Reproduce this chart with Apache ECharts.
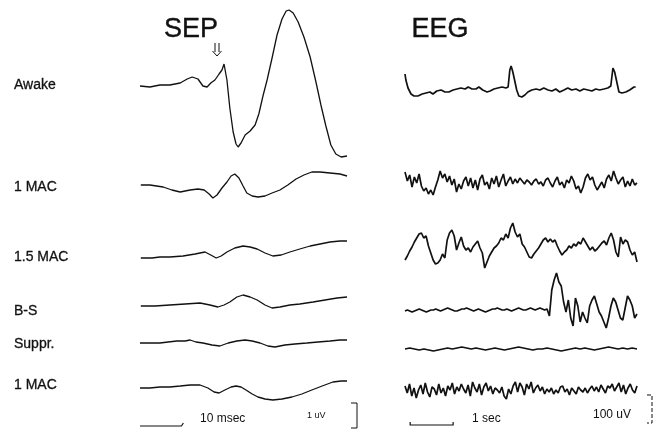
<!DOCTYPE html>
<html><head><meta charset="utf-8">
<script src="https://cdn.jsdelivr.net/npm/echarts@6/dist/echarts.min.js"></script>
<style>html,body{margin:0;padding:0;background:#fff}#c{width:663px;height:432px}</style>
</head><body><div id="c"></div>
<script>
// ---------- DATA ----------
const conditions = ['Awake', '1 MAC', '1.5 MAC', 'B-S', 'Suppr.', '1 MAC'];
const panelTitles = ['SEP', 'EEG'];
const scaleLabels = {sepTime: '10 msec', sepAmp: '1 uV', eegTime: '1 sec', eegAmp: '100 uV'};

// SEP traces: [time (ms), amplitude (a.u., up positive)]
const sepAwake = [[0,0],[2.4,-1],[4.8,1],[7.2,1],[9.7,3],[11.4,7],[12.6,9],[14.0,7],[15.2,0],[16.2,-1],[17.1,3],[18.1,6],[19.1,12],[19.8,16],[20.3,22],[21.0,6],[21.7,-22],[22.5,-46],[23.2,-58],[23.7,-61],[24.4,-57],[25.4,-49],[26.6,-45],[27.8,-39],[28.7,-28],[29.7,-10],[30.7,6],[31.9,28],[33.1,51],[34.3,67],[35.3,75],[36.0,76],[37.0,73],[38.2,64],[39.6,49],[41.1,29],[42.5,4],[43.7,-19],[44.9,-40],[46.1,-59],[47.3,-68],[48.6,-71],[50.0,-70]];
const sep1Mac = [[0.2,1],[2.4,1],[5.6,-1],[7.7,-4],[9.7,-6],[12.1,-4],[14.0,-3],[15.5,-4],[16.7,-8],[17.6,-12],[18.6,-9],[19.8,-2],[21.0,4],[22.0,10],[22.9,12],[23.9,8],[24.9,0],[25.8,-7],[27.1,-10],[28.5,-11],[30.2,-10],[31.9,-7],[33.8,-4],[35.7,1],[37.7,7],[39.6,11],[41.5,14],[43.5,14],[45.9,13],[48.3,12],[50,10]];
const sep15Mac = [[0.2,0],[2.9,0],[4.8,1],[7.2,1],[10.4,2],[13.3,4],[15.7,6],[17.1,3],[18.4,0],[19.6,2],[21.0,6],[22.9,10],[24.9,12],[26.6,11],[28.3,9],[30.2,5],[32.1,2],[34.1,3],[36.2,6],[38.6,9],[41.1,12],[43.5,14],[45.9,16],[48.3,17],[50,17]];
const sepBS = [[0.2,0],[3.6,0],[7.2,1],[10.9,2],[14.5,3],[16.9,1],[18.8,-1],[20.3,1],[21.7,4],[23.4,9],[24.9,11],[26.6,9],[28.3,6],[30.2,1],[31.9,-2],[33.8,-1],[36.2,1],[38.6,2],[41.8,4],[44.7,6],[47.6,8],[50,9]];
const sepSuppr = [[0,0],[2.4,0],[4.8,0],[6.8,1],[8.9,2],[10.9,2],[12.1,3],[13.5,1],[15.2,0],[17.4,-2],[19.3,-3],[21.3,0],[23.4,2],[25.4,3],[27.1,2],[29.0,0],[30.9,-3],[32.6,-4],[35.0,-2],[37.4,-1],[40.3,0],[43.0,1],[45.9,2],[48.3,3],[50,3]];
const sep1MacB = [[0,0],[2.4,0],[4.8,1],[7.2,1],[9.7,2],[12.1,3],[14.5,3],[16.4,0],[17.9,-4],[19.1,-5],[20.5,-2],[22.0,1],[23.2,2],[24.4,1],[25.6,-2],[27.1,-6],[28.5,-9],[30.2,-11],[32.1,-12],[34.3,-11],[36.7,-9],[39.1,-6],[41.5,-2],[44.0,2],[46.6,6],[48.6,7],[50,7]];

// EEG traces
// Awake: [time (s), amplitude (a.u.)]
const eegAwake = [[0,16],[0.02,10],[0.07,2],[0.14,-4],[0.21,-6],[0.30,-6],[0.40,-4],[0.49,-3],[0.58,-2],[0.65,-4],[0.74,-1],[0.84,0],[0.93,-2],[1.02,-2],[1.12,0],[1.21,1],[1.30,2],[1.40,1],[1.47,3],[1.56,1],[1.65,1],[1.72,3],[1.81,0],[1.91,-2],[1.98,-1],[2.07,1],[2.16,2],[2.26,3],[2.35,2],[2.40,3],[2.44,20],[2.47,24],[2.51,18],[2.56,8],[2.60,0],[2.65,-6],[2.72,-7],[2.79,-5],[2.86,-2],[2.95,0],[3.05,1],[3.14,0],[3.23,2],[3.33,0],[3.42,-1],[3.51,1],[3.60,-2],[3.70,0],[3.79,2],[3.88,0],[3.98,1],[4.07,-1],[4.16,1],[4.26,0],[4.35,-1],[4.44,1],[4.53,0],[4.63,1],[4.72,2],[4.79,4],[4.84,22],[4.88,18],[4.93,8],[4.98,-2],[5.05,-3],[5.14,-2],[5.23,0],[5.33,3],[5.37,3]];
// Others: evenly sampled over the sweep (amplitude, a.u.)
const eeg1Mac = [11,2,8,-4,6,0,9,-3,-8,-5,-11,-7,-12,-4,3,12,5,9,1,7,-2,4,-9,-1,-6,2,6,-3,5,-5,3,-7,4,8,-2,1,-6,5,-1,7,-4,3,9,-3,2,6,-1,4,0,5,2,-1,3,1,-2,2,4,-1,1,-3,3,5,0,-4,2,6,-2,1,-5,3,0,7,2,-6,-3,-10,-4,5,9,3,6,-2,-7,-3,1,-5,4,8,2,12,5,-1,3,6,-4,2,-3,4,-2,0];
const eeg15Mac = [-12,-8,-3,1,6,10,14,15,10,12,2,-5,-12,-16,-15,-12,-6,-10,8,15,18,12,-2,5,11,2,-2,0,-4,1,4,7,0,-5,-20,-14,-8,-4,0,2,5,10,8,14,10,20,25,16,11,14,4,1,-4,-9,-10,-6,-3,0,4,8,10,6,9,6,8,2,-3,-7,-4,-2,2,0,4,2,6,4,10,6,2,-2,1,-3,-1,2,5,7,3,10,15,8,-4,-9,11,4,8,6,-2,-7,-4,-14];
const eegBS = [-1,0,-1,-2,-1,0,1,0,-1,-2,-1,0,0,1,0,-1,0,1,2,1,0,-1,-1,0,1,1,2,1,0,-1,0,1,0,-1,-2,-1,0,1,1,2,1,0,0,1,0,-1,0,1,2,1,0,0,1,2,1,0,1,2,1,0,1,-6,20,30,37,28,24,8,-2,10,-8,-16,12,4,-12,-2,-8,-13,4,10,14,6,-2,-6,-12,-18,-8,4,12,8,0,-8,-10,2,14,10,4,-8,-4];
const eegSuppr = [0,1,0,-1,0,-1,-2,-1,0,1,0,1,2,1,0,1,0,-1,0,1,0,-1,0,1,2,1,0,-1,0,0,1,0,-1,-2,-1,0,1,0,1,0,-1,0,1,2,1,0,1,0,1,0];
const eeg1MacB = [4,-3,6,-6,2,-8,0,5,-4,7,-2,-7,3,1,-5,6,-3,2,-6,4,0,7,-4,3,-1,6,1,-3,5,-6,8,2,-2,6,-5,3,7,-1,4,-4,2,0,-3,3,-6,-9,1,-4,4,8,-2,7,3,-5,6,1,8,-3,2,5,-1,3,-4,1,-2,2,-4,0,-3,3,4,-2,1,-5,2,-1,-4,3,0,-2,2,-3,1,4,-1,3,-2,5,1,-3,4,2,6,-1,3,7,-2,5,-4,2,6,0,-3,4];

// ---------- LAYOUT (positions / styles) ----------
const H = 432;
const sepRange = [0, 50];     // ms
const eegRange = [0, 5.4];    // s
const sepBaseline = [86, 186, 258, 306, 343, 388];
const eegBaseline = [90, 183, 248, 310, 349, 390];
const labelY = [85, 187, 257, 311, 344, 385];
const INK = '#111';

const sepTraces = [sepAwake, sep1Mac, sep15Mac, sepBS, sepSuppr, sep1MacB];
const eegSampled = [null, eeg1Mac, eeg15Mac, eegBS, eegSuppr, eeg1MacB];

const series = [];
sepTraces.forEach((tr, k) => {
  series.push({
    type: 'line', xAxisIndex: 0, yAxisIndex: 0, showSymbol: false, silent: true,
    lineStyle: {color: INK, width: 1.3}, z: 3,
    data: tr.map(([t, a]) => [t, H - sepBaseline[k] + a])
  });
});
eegSampled.forEach((arr, k) => {
  let data;
  if (k === 0) data = eegAwake.map(([t, a]) => [t, H - eegBaseline[k] + a]);
  else data = arr.map((a, i) => [i * eegRange[1] / (arr.length - 1), H - eegBaseline[k] + a]);
  series.push({
    type: 'line', xAxisIndex: 1, yAxisIndex: 1, showSymbol: false, silent: true,
    lineStyle: {color: INK, width: 1.7}, z: 3, data
  });
});

const chart = echarts.init(document.getElementById('c'), null, {renderer: 'canvas'});
chart.setOption({
  animation: false,
  backgroundColor: '#fff',
  grid: [
    {left: 140, width: 207, top: 0, height: H},
    {left: 405, width: 232, top: 0, height: H}
  ],
  xAxis: [
    {type: 'value', gridIndex: 0, min: sepRange[0], max: sepRange[1], show: false},
    {type: 'value', gridIndex: 1, min: eegRange[0], max: eegRange[1], show: false}
  ],
  yAxis: [
    {type: 'value', gridIndex: 0, min: 0, max: H, show: false},
    {type: 'value', gridIndex: 1, min: 0, max: H, show: false}
  ],
  series
});

// ---------- annotations from axis scales ----------
const px0 = (x, y) => chart.convertToPixel({xAxisIndex: 0, yAxisIndex: 0}, [x, y]);
const px1 = (x, y) => chart.convertToPixel({xAxisIndex: 1, yAxisIndex: 1}, [x, y]);
const lineStyle = {stroke: INK, lineWidth: 1.2};
const font = (s, w) => `${w || 'normal'} ${s}px "Liberation Sans", Arial, sans-serif`;
const g = [];

// row labels
conditions.forEach((c, k) => g.push({type: 'text', x: 14, y: labelY[k],
  style: {text: c, font: font(14), fill: INK, verticalAlign: 'middle', stroke: INK, lineWidth: 0.3}}));
// titles
g.push({type: 'text', x: 191, y: 30, style: {text: panelTitles[0], font: font(27), fill: INK, align: 'center', verticalAlign: 'middle', stroke: INK, lineWidth: 0.4}});
g.push({type: 'text', x: 440, y: 30, style: {text: panelTitles[1], font: font(27), fill: INK, align: 'center', verticalAlign: 'middle', stroke: INK, lineWidth: 0.4}});

// arrow over the early SEP component
const ap = px0(18.6, H - sepBaseline[0] + 22);
const ax = ap[0], ay = ap[1] - 8;
g.push({type: 'polyline', shape: {points: [[ax - 2, ay - 13], [ax - 2, ay - 4]]}, style: {stroke: INK, lineWidth: 1}});
g.push({type: 'polyline', shape: {points: [[ax + 2, ay - 13], [ax + 2, ay - 4]]}, style: {stroke: INK, lineWidth: 1}});
g.push({type: 'polyline', shape: {points: [[ax - 4.5, ay - 5], [ax, ay], [ax + 4.5, ay - 5]]}, style: {stroke: INK, lineWidth: 1, fill: null}});

// SEP time bar (10 ms)
const s0 = px0(0, 0)[0], s1 = px0(10, 0)[0];
g.push({type: 'polyline', shape: {points: [[s0, 426], [s1, 426], [s1 + 2, 423]]}, style: lineStyle});
g.push({type: 'text', left: 200, top: 413, style: {text: scaleLabels.sepTime, font: font(12), fill: INK}});
g.push({type: 'text', left: 307, top: 411, style: {text: scaleLabels.sepAmp, font: font(9), fill: INK}});
// SEP amplitude bracket
g.push({type: 'polyline', shape: {points: [[351, 403], [357, 403], [357, 428], [351, 428]]}, style: {stroke: INK, lineWidth: 1, fill: null}});

// EEG time bar (1 s)
const e0 = px1(0.12, 0)[0], e1 = px1(1.12, 0)[0];
g.push({type: 'polyline', shape: {points: [[e0, 422], [e0, 425], [e1, 425], [e1, 422]]}, style: lineStyle});
g.push({type: 'text', left: 472, top: 413, style: {text: scaleLabels.eegTime, font: font(12), fill: INK}});
g.push({type: 'text', left: 593, top: 409, style: {text: scaleLabels.eegAmp, font: font(12), fill: INK}});
// EEG amplitude bracket (dashed)
g.push({type: 'polyline', shape: {points: [[647, 395], [652, 395], [652, 423], [647, 423]]}, style: {stroke: INK, lineWidth: 1, lineDash: [4, 2], fill: null}});

chart.setOption({graphic: g});
</script>
</body></html>
